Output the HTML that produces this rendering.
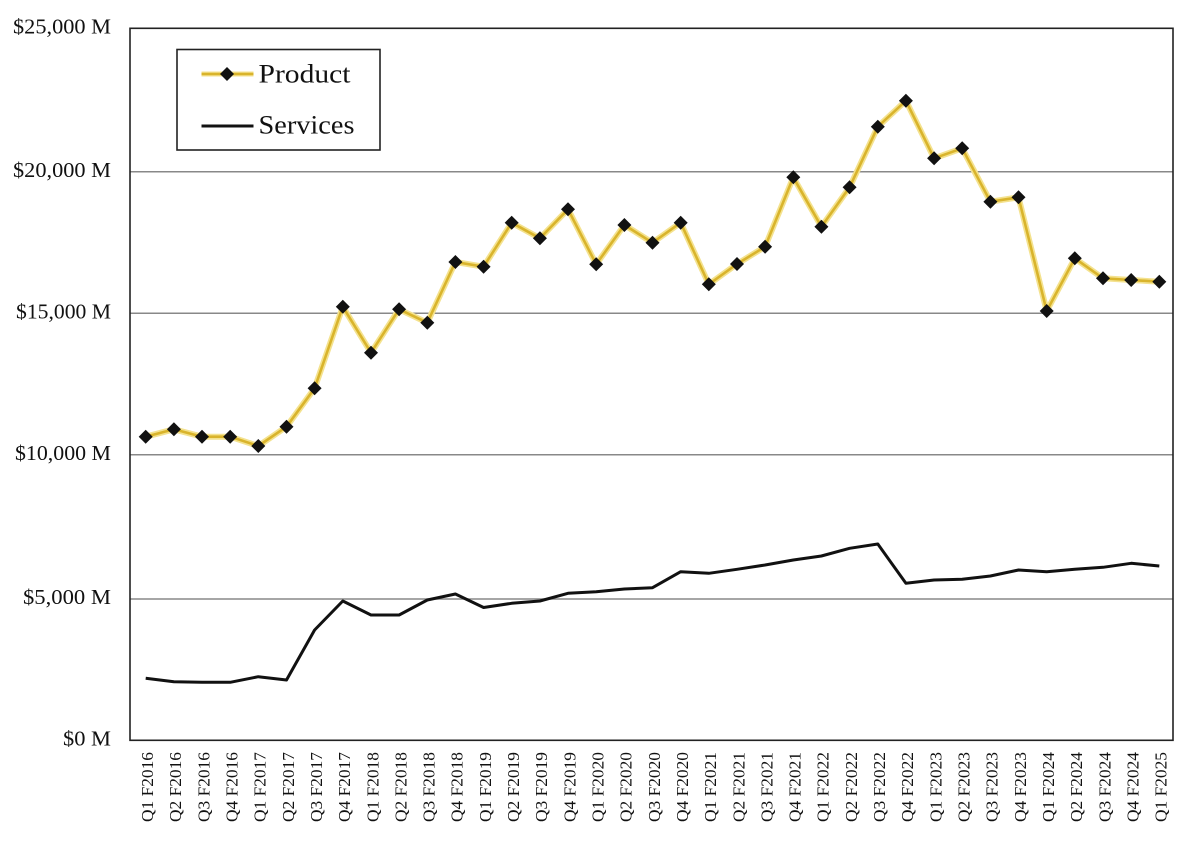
<!DOCTYPE html>
<html><head><meta charset="utf-8"><style>
html,body{margin:0;padding:0;background:#fff;}
svg{display:block;}
text{font-family:"Liberation Serif",serif;fill:#111;}
</style></head><body>
<svg width="1200" height="852" viewBox="0 0 1200 852" xmlns="http://www.w3.org/2000/svg">
<rect width="1200" height="852" fill="#fff"/>
<g stroke="#888" stroke-width="1.5">
<line x1="130" y1="171.7" x2="1173" y2="171.7"/>
<line x1="130" y1="313.3" x2="1173" y2="313.3"/>
<line x1="130" y1="454.8" x2="1173" y2="454.8"/>
<line x1="130" y1="599" x2="1173" y2="599"/>
</g>
<rect x="130" y="28.3" width="1043" height="712" fill="none" stroke="#222" stroke-width="1.6"/>
<g font-size="21" text-anchor="end">
<text x="111" y="33.5" textLength="98" lengthAdjust="spacingAndGlyphs">$25,000 M</text>
<text x="111" y="176.8" textLength="98" lengthAdjust="spacingAndGlyphs">$20,000 M</text>
<text x="111" y="318.5" textLength="95" lengthAdjust="spacingAndGlyphs">$15,000 M</text>
<text x="111" y="460" textLength="96" lengthAdjust="spacingAndGlyphs">$10,000 M</text>
<text x="111" y="604" textLength="88" lengthAdjust="spacingAndGlyphs">$5,000 M</text>
<text x="111" y="745.5" textLength="48" lengthAdjust="spacingAndGlyphs">$0 M</text>
</g>
<!-- Services -->
<polyline fill="none" stroke="#111" stroke-width="3" stroke-linejoin="round" points="145.7,678.3 173.9,681.7 202.0,682.3 230.2,682.3 258.3,676.7 286.5,680 314.6,630 342.8,601 371.0,615 399.1,615 427.3,600 455.4,594 483.6,607.5 511.7,603.3 539.9,601 568.0,593.3 596.2,591.7 624.4,589 652.5,587.7 680.7,571.7 708.8,573.3 737.0,569.3 765.1,565 793.3,560 821.4,556 849.6,548.3 877.8,544 905.9,583.3 934.1,580 962.2,579.3 990.4,576 1018.5,570 1046.7,571.7 1074.8,569.3 1103.0,567.3 1131.2,563.3 1159.3,566"/>
<!-- Product -->
<g fill="none" stroke-linejoin="round">
<polyline stroke="#f4e28e" stroke-width="6" points="145.7,436.7 173.9,429.3 202.0,436.7 230.2,436.7 258.3,446 286.5,426.7 314.6,388.3 342.8,306.7 371.0,352.7 399.1,309.3 427.3,322.7 455.4,262 483.6,266.7 511.7,222.7 539.9,238.3 568.0,209.3 596.2,264.3 624.4,225 652.5,242.7 680.7,222.7 708.8,284.3 737.0,264 765.1,246.7 793.3,177.3 821.4,226.7 849.6,187.3 877.8,126.7 905.9,100.7 934.1,158.3 962.2,148.3 990.4,201.7 1018.5,197.3 1046.7,311 1074.8,258.3 1103.0,278.3 1131.2,280 1159.3,281.7"/>
<polyline stroke="#d9b42c" stroke-width="2.6" points="145.7,436.7 173.9,429.3 202.0,436.7 230.2,436.7 258.3,446 286.5,426.7 314.6,388.3 342.8,306.7 371.0,352.7 399.1,309.3 427.3,322.7 455.4,262 483.6,266.7 511.7,222.7 539.9,238.3 568.0,209.3 596.2,264.3 624.4,225 652.5,242.7 680.7,222.7 708.8,284.3 737.0,264 765.1,246.7 793.3,177.3 821.4,226.7 849.6,187.3 877.8,126.7 905.9,100.7 934.1,158.3 962.2,148.3 990.4,201.7 1018.5,197.3 1046.7,311 1074.8,258.3 1103.0,278.3 1131.2,280 1159.3,281.7"/>
</g>
<g fill="#111">
<path id="d" d="M0,-7 L7,0 L0,7 L-7,0 Z" transform="translate(145.7,436.7)"/>
<path d="M0,-7 L7,0 L0,7 L-7,0 Z" transform="translate(173.9,429.3)"/>
<path d="M0,-7 L7,0 L0,7 L-7,0 Z" transform="translate(202.0,436.7)"/>
<path d="M0,-7 L7,0 L0,7 L-7,0 Z" transform="translate(230.2,436.7)"/>
<path d="M0,-7 L7,0 L0,7 L-7,0 Z" transform="translate(258.3,446)"/>
<path d="M0,-7 L7,0 L0,7 L-7,0 Z" transform="translate(286.5,426.7)"/>
<path d="M0,-7 L7,0 L0,7 L-7,0 Z" transform="translate(314.6,388.3)"/>
<path d="M0,-7 L7,0 L0,7 L-7,0 Z" transform="translate(342.8,306.7)"/>
<path d="M0,-7 L7,0 L0,7 L-7,0 Z" transform="translate(371.0,352.7)"/>
<path d="M0,-7 L7,0 L0,7 L-7,0 Z" transform="translate(399.1,309.3)"/>
<path d="M0,-7 L7,0 L0,7 L-7,0 Z" transform="translate(427.3,322.7)"/>
<path d="M0,-7 L7,0 L0,7 L-7,0 Z" transform="translate(455.4,262)"/>
<path d="M0,-7 L7,0 L0,7 L-7,0 Z" transform="translate(483.6,266.7)"/>
<path d="M0,-7 L7,0 L0,7 L-7,0 Z" transform="translate(511.7,222.7)"/>
<path d="M0,-7 L7,0 L0,7 L-7,0 Z" transform="translate(539.9,238.3)"/>
<path d="M0,-7 L7,0 L0,7 L-7,0 Z" transform="translate(568.0,209.3)"/>
<path d="M0,-7 L7,0 L0,7 L-7,0 Z" transform="translate(596.2,264.3)"/>
<path d="M0,-7 L7,0 L0,7 L-7,0 Z" transform="translate(624.4,225)"/>
<path d="M0,-7 L7,0 L0,7 L-7,0 Z" transform="translate(652.5,242.7)"/>
<path d="M0,-7 L7,0 L0,7 L-7,0 Z" transform="translate(680.7,222.7)"/>
<path d="M0,-7 L7,0 L0,7 L-7,0 Z" transform="translate(708.8,284.3)"/>
<path d="M0,-7 L7,0 L0,7 L-7,0 Z" transform="translate(737.0,264)"/>
<path d="M0,-7 L7,0 L0,7 L-7,0 Z" transform="translate(765.1,246.7)"/>
<path d="M0,-7 L7,0 L0,7 L-7,0 Z" transform="translate(793.3,177.3)"/>
<path d="M0,-7 L7,0 L0,7 L-7,0 Z" transform="translate(821.4,226.7)"/>
<path d="M0,-7 L7,0 L0,7 L-7,0 Z" transform="translate(849.6,187.3)"/>
<path d="M0,-7 L7,0 L0,7 L-7,0 Z" transform="translate(877.8,126.7)"/>
<path d="M0,-7 L7,0 L0,7 L-7,0 Z" transform="translate(905.9,100.7)"/>
<path d="M0,-7 L7,0 L0,7 L-7,0 Z" transform="translate(934.1,158.3)"/>
<path d="M0,-7 L7,0 L0,7 L-7,0 Z" transform="translate(962.2,148.3)"/>
<path d="M0,-7 L7,0 L0,7 L-7,0 Z" transform="translate(990.4,201.7)"/>
<path d="M0,-7 L7,0 L0,7 L-7,0 Z" transform="translate(1018.5,197.3)"/>
<path d="M0,-7 L7,0 L0,7 L-7,0 Z" transform="translate(1046.7,311)"/>
<path d="M0,-7 L7,0 L0,7 L-7,0 Z" transform="translate(1074.8,258.3)"/>
<path d="M0,-7 L7,0 L0,7 L-7,0 Z" transform="translate(1103.0,278.3)"/>
<path d="M0,-7 L7,0 L0,7 L-7,0 Z" transform="translate(1131.2,280)"/>
<path d="M0,-7 L7,0 L0,7 L-7,0 Z" transform="translate(1159.3,281.7)"/>
</g>
<!-- Legend -->
<rect x="177" y="49.5" width="203" height="100.5" fill="#fff" stroke="#222" stroke-width="1.6"/>
<line x1="201.5" y1="74" x2="253.5" y2="74" stroke="#f4e28e" stroke-width="5"/>
<line x1="201.5" y1="74" x2="253.5" y2="74" stroke="#d9b42c" stroke-width="2.4"/>
<path d="M0,-7 L7,0 L0,7 L-7,0 Z" transform="translate(227,74)" fill="#111"/>
<line x1="201.5" y1="126" x2="253.5" y2="126" stroke="#111" stroke-width="3"/>
<text x="258.5" y="82.5" font-size="26" textLength="92" lengthAdjust="spacingAndGlyphs">Product</text>
<text x="258.5" y="133.5" font-size="26" textLength="96" lengthAdjust="spacingAndGlyphs">Services</text>
<!-- X labels -->
<g font-size="17" text-anchor="end">
<text transform="translate(153,752) rotate(-90)" textLength="70" lengthAdjust="spacingAndGlyphs">Q1 F2016</text>
<text transform="translate(181.2,752) rotate(-90)" textLength="70" lengthAdjust="spacingAndGlyphs">Q2 F2016</text>
<text transform="translate(209.3,752) rotate(-90)" textLength="70" lengthAdjust="spacingAndGlyphs">Q3 F2016</text>
<text transform="translate(237.5,752) rotate(-90)" textLength="70" lengthAdjust="spacingAndGlyphs">Q4 F2016</text>
<text transform="translate(265.6,752) rotate(-90)" textLength="70" lengthAdjust="spacingAndGlyphs">Q1 F2017</text>
<text transform="translate(293.8,752) rotate(-90)" textLength="70" lengthAdjust="spacingAndGlyphs">Q2 F2017</text>
<text transform="translate(321.9,752) rotate(-90)" textLength="70" lengthAdjust="spacingAndGlyphs">Q3 F2017</text>
<text transform="translate(350.1,752) rotate(-90)" textLength="70" lengthAdjust="spacingAndGlyphs">Q4 F2017</text>
<text transform="translate(378.3,752) rotate(-90)" textLength="70" lengthAdjust="spacingAndGlyphs">Q1 F2018</text>
<text transform="translate(406.4,752) rotate(-90)" textLength="70" lengthAdjust="spacingAndGlyphs">Q2 F2018</text>
<text transform="translate(434.6,752) rotate(-90)" textLength="70" lengthAdjust="spacingAndGlyphs">Q3 F2018</text>
<text transform="translate(462.7,752) rotate(-90)" textLength="70" lengthAdjust="spacingAndGlyphs">Q4 F2018</text>
<text transform="translate(490.9,752) rotate(-90)" textLength="70" lengthAdjust="spacingAndGlyphs">Q1 F2019</text>
<text transform="translate(519.0,752) rotate(-90)" textLength="70" lengthAdjust="spacingAndGlyphs">Q2 F2019</text>
<text transform="translate(547.2,752) rotate(-90)" textLength="70" lengthAdjust="spacingAndGlyphs">Q3 F2019</text>
<text transform="translate(575.3,752) rotate(-90)" textLength="70" lengthAdjust="spacingAndGlyphs">Q4 F2019</text>
<text transform="translate(603.5,752) rotate(-90)" textLength="70" lengthAdjust="spacingAndGlyphs">Q1 F2020</text>
<text transform="translate(631.7,752) rotate(-90)" textLength="70" lengthAdjust="spacingAndGlyphs">Q2 F2020</text>
<text transform="translate(659.8,752) rotate(-90)" textLength="70" lengthAdjust="spacingAndGlyphs">Q3 F2020</text>
<text transform="translate(688.0,752) rotate(-90)" textLength="70" lengthAdjust="spacingAndGlyphs">Q4 F2020</text>
<text transform="translate(716.1,752) rotate(-90)" textLength="70" lengthAdjust="spacingAndGlyphs">Q1 F2021</text>
<text transform="translate(744.3,752) rotate(-90)" textLength="70" lengthAdjust="spacingAndGlyphs">Q2 F2021</text>
<text transform="translate(772.4,752) rotate(-90)" textLength="70" lengthAdjust="spacingAndGlyphs">Q3 F2021</text>
<text transform="translate(800.6,752) rotate(-90)" textLength="70" lengthAdjust="spacingAndGlyphs">Q4 F2021</text>
<text transform="translate(828.7,752) rotate(-90)" textLength="70" lengthAdjust="spacingAndGlyphs">Q1 F2022</text>
<text transform="translate(856.9,752) rotate(-90)" textLength="70" lengthAdjust="spacingAndGlyphs">Q2 F2022</text>
<text transform="translate(885.1,752) rotate(-90)" textLength="70" lengthAdjust="spacingAndGlyphs">Q3 F2022</text>
<text transform="translate(913.2,752) rotate(-90)" textLength="70" lengthAdjust="spacingAndGlyphs">Q4 F2022</text>
<text transform="translate(941.4,752) rotate(-90)" textLength="70" lengthAdjust="spacingAndGlyphs">Q1 F2023</text>
<text transform="translate(969.5,752) rotate(-90)" textLength="70" lengthAdjust="spacingAndGlyphs">Q2 F2023</text>
<text transform="translate(997.7,752) rotate(-90)" textLength="70" lengthAdjust="spacingAndGlyphs">Q3 F2023</text>
<text transform="translate(1025.8,752) rotate(-90)" textLength="70" lengthAdjust="spacingAndGlyphs">Q4 F2023</text>
<text transform="translate(1054.0,752) rotate(-90)" textLength="70" lengthAdjust="spacingAndGlyphs">Q1 F2024</text>
<text transform="translate(1082.1,752) rotate(-90)" textLength="70" lengthAdjust="spacingAndGlyphs">Q2 F2024</text>
<text transform="translate(1110.3,752) rotate(-90)" textLength="70" lengthAdjust="spacingAndGlyphs">Q3 F2024</text>
<text transform="translate(1138.5,752) rotate(-90)" textLength="70" lengthAdjust="spacingAndGlyphs">Q4 F2024</text>
<text transform="translate(1166.6,752) rotate(-90)" textLength="70" lengthAdjust="spacingAndGlyphs">Q1 F2025</text>
</g>
</svg>
</body></html>
